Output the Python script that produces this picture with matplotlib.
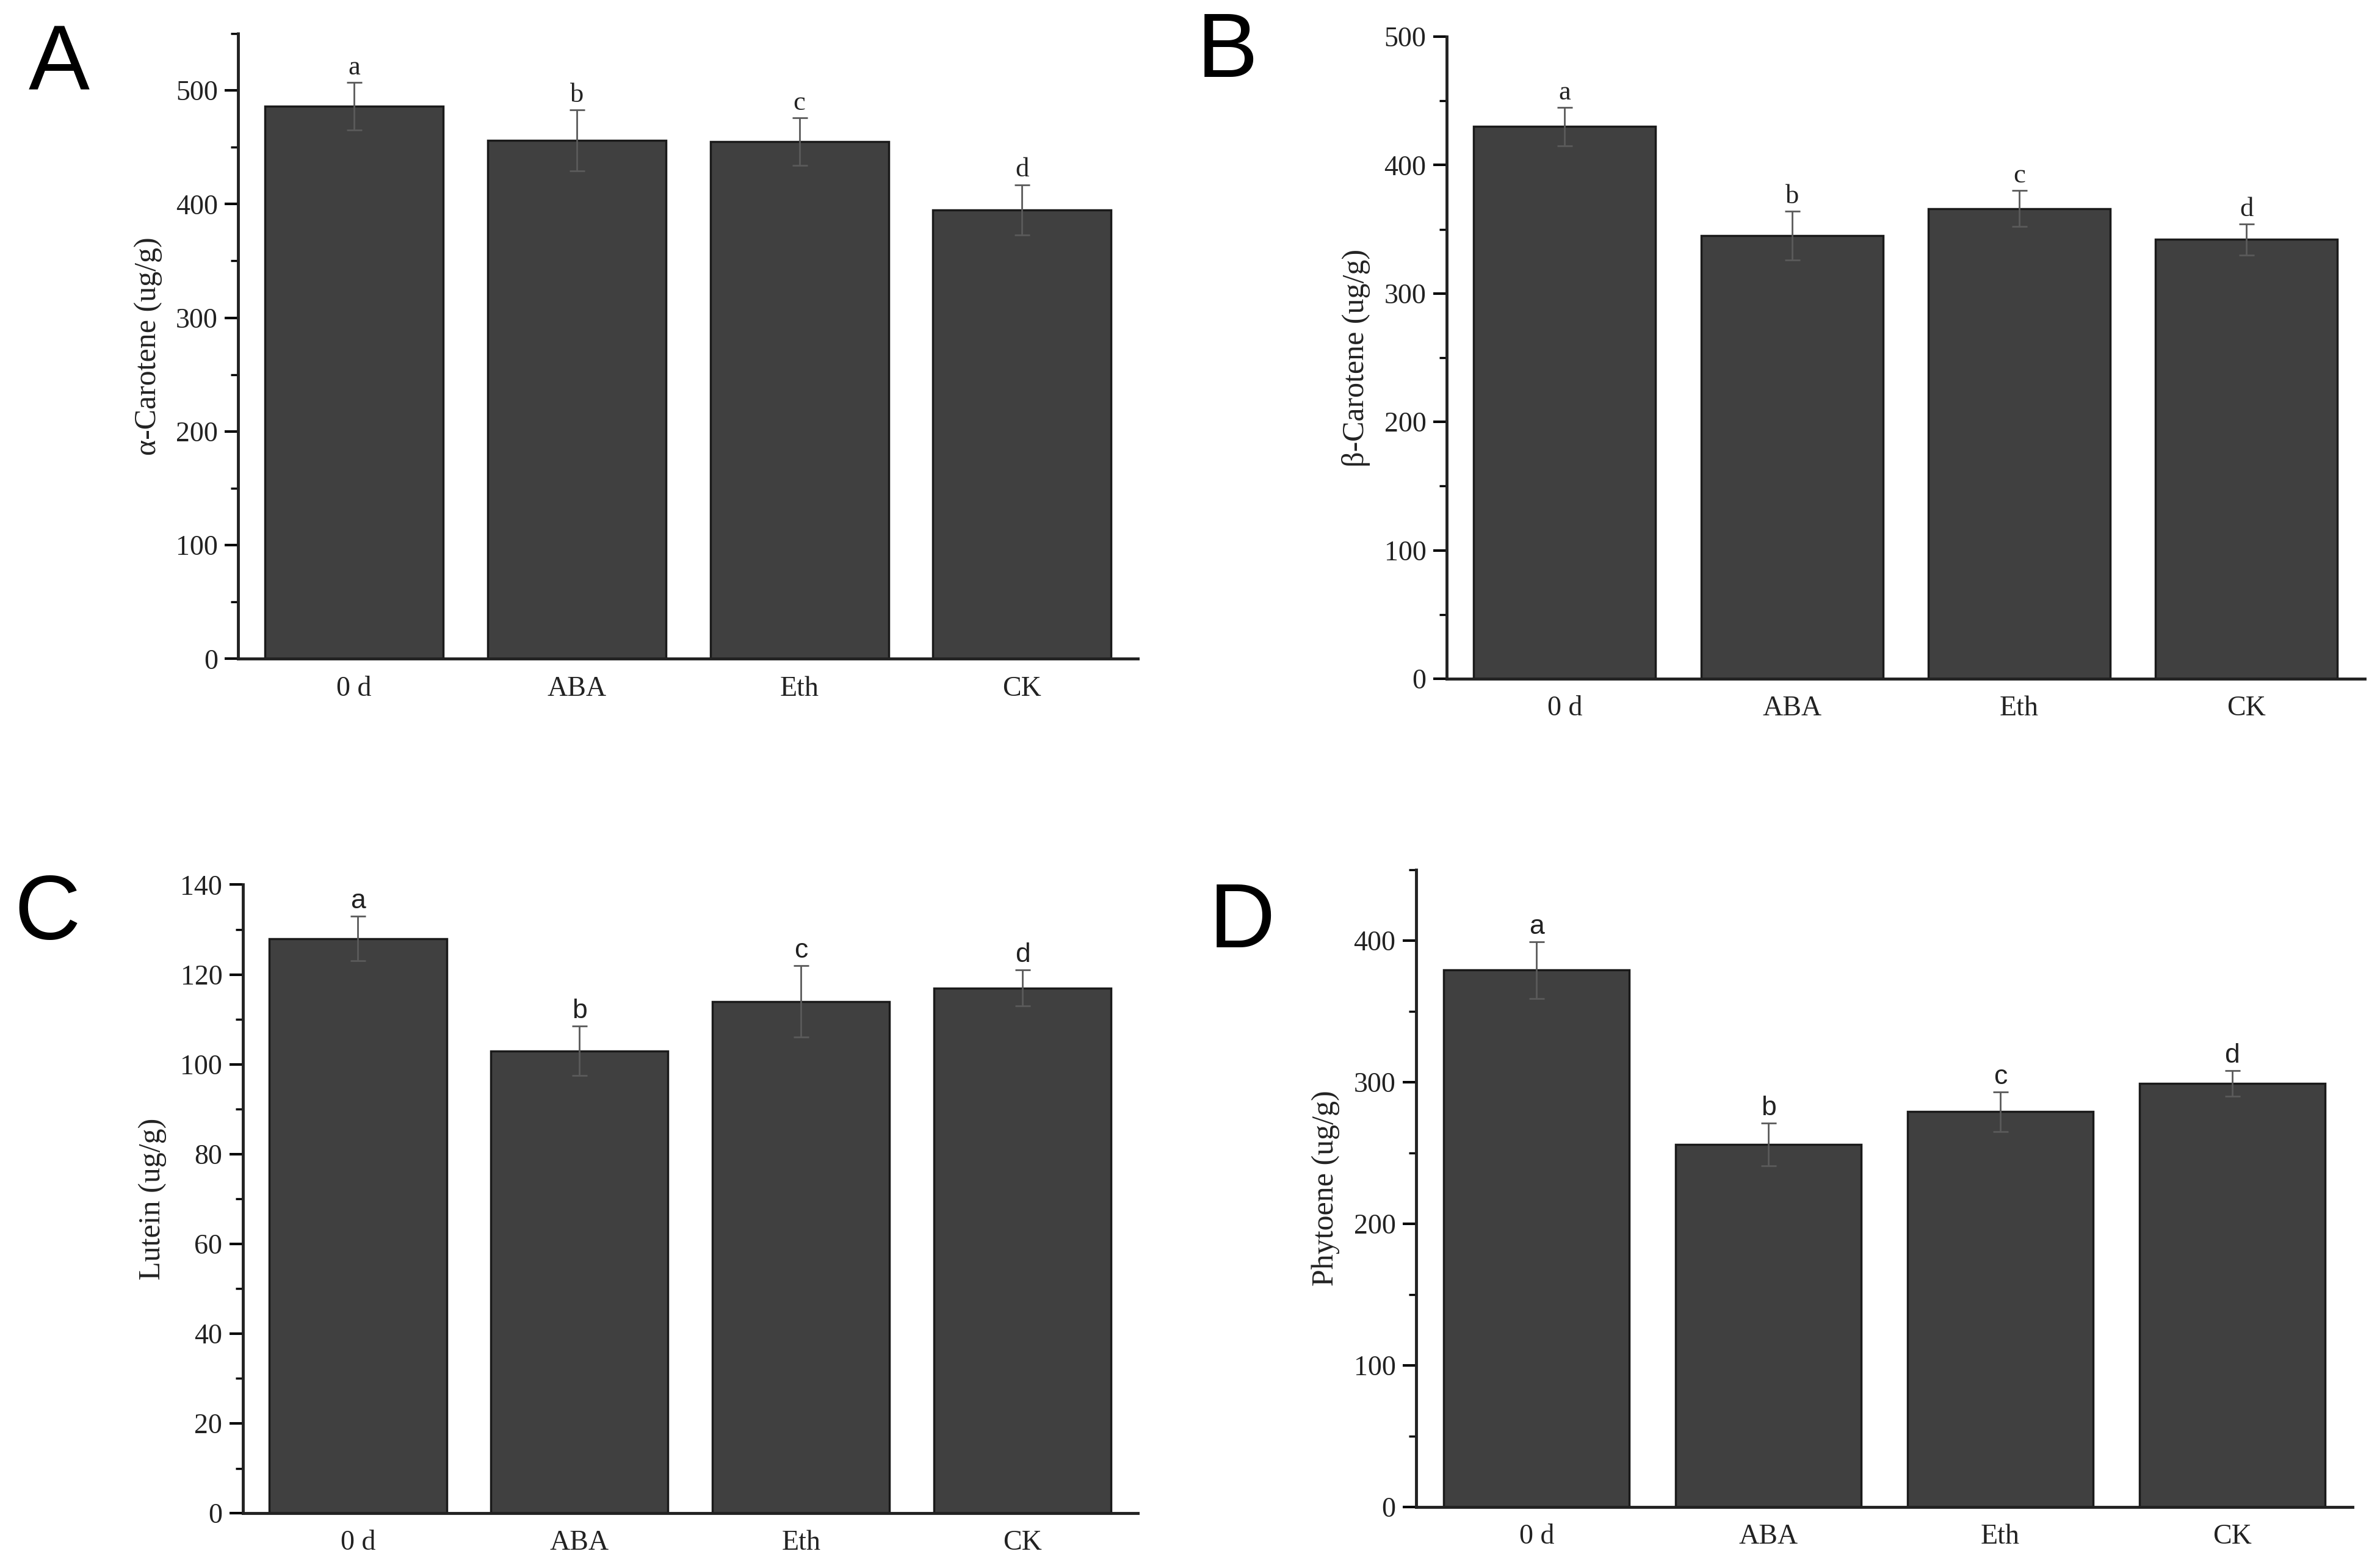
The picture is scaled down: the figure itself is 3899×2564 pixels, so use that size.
import matplotlib.pyplot as plt
from matplotlib.ticker import MultipleLocator

groups = ['0 d', 'ABA', 'Eth', 'CK']

alpha_car = [486, 456, 455, 395]
alpha_err = [21, 27, 21, 22]
beta_car = [430, 345, 366, 342]
beta_err = [15, 19, 14, 12]
lutein = [128, 103, 114, 117]
lutein_err = [5, 5.5, 8, 4]
phytoene = [379, 256, 279, 299]
phytoene_err = [20, 15, 14, 9]
letters = ['a', 'b', 'c', 'd']

serif = 'Liberation Serif'
sans = 'Liberation Sans'

fig = plt.figure(figsize=(38.99, 25.64), dpi=100)

panels = [
    # rect, values, errors, ylabel, ylim, major, minor, panel label, letter font, label pos
    ([0.1001, 0.579, 0.378, 0.3996], alpha_car, alpha_err, 'α-Carotene (ug/g)', 550, 100, 50, 'A', serif, (0.012, 0.958)),
    ([0.6078, 0.5663, 0.3858, 0.4103], beta_car, beta_err, 'β-Carotene (ug/g)', 500, 100, 50, 'B', serif, (0.503, 0.966)),
    ([0.1020, 0.0331, 0.376, 0.4016], lutein, lutein_err, 'Lutein (ug/g)', 140, 20, 10, 'C', sans, (0.006, 0.415)),
    ([0.5950, 0.0370, 0.3935, 0.4074], phytoene, phytoene_err, 'Phytoene (ug/g)', 450, 100, 50, 'D', sans, (0.508, 0.41)),
]

for rect, vals, errs, ylab, ymax, major, minor, plab, lfont, lpos in panels:
    ax = fig.add_axes(rect)
    x = range(len(groups))
    ax.bar(x, vals, width=0.8, color='#404040', edgecolor='#1a1a1a', linewidth=2.5, zorder=2)
    ax.errorbar(x, vals, yerr=errs, fmt='none', ecolor='#5a5a5a', elinewidth=2,
                capsize=9, capthick=2, zorder=3)
    for xi, v, e, let in zip(x, vals, errs, letters):
        ax.annotate(let, (xi, v + e), xytext=(0, 3), textcoords='offset points',
                    ha='center', va='bottom', fontsize=32, family=lfont, color='#222222')
    ax.set_xlim(-0.52, 3.52)
    ax.set_ylim(0, ymax)
    ax.yaxis.set_major_locator(MultipleLocator(major))
    ax.yaxis.set_minor_locator(MultipleLocator(minor))
    ax.set_xticks(list(x))
    ax.set_xticklabels(groups, family=serif, fontsize=33, color='#222222')
    for t in ax.get_yticklabels():
        t.set_family(serif)
        t.set_fontsize(33)
        t.set_color('#222222')
    ax.tick_params(axis='x', length=0, pad=20)
    ax.tick_params(axis='y', which='major', length=16, width=3, direction='out', pad=8)
    ax.tick_params(axis='y', which='minor', length=9, width=2.5, direction='out')
    ax.set_ylabel(ylab, family=serif, fontsize=36, color='#222222', labelpad=16)
    for s in ['top', 'right']:
        ax.spines[s].set_visible(False)
    for s in ['left', 'bottom']:
        ax.spines[s].set_linewidth(3.5)
        ax.spines[s].set_color('#222222')
    fig.text(lpos[0], lpos[1], plab, family=sans, fontsize=108, color='black', ha='left', va='center')

fig.savefig('out.png', dpi=100, facecolor='white')
